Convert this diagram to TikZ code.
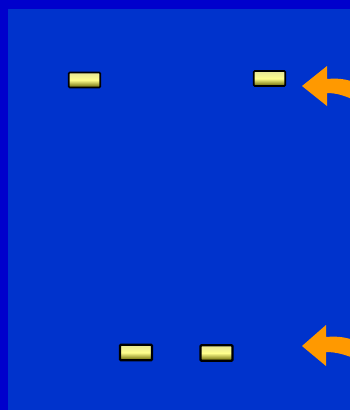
\documentclass[tikz,border=0pt]{standalone}
\usepackage{tikz}
\usetikzlibrary{positioning}
\usepackage{xcolor}

\definecolor{edgeblue}{HTML}{0000CC}
\definecolor{slideblue}{HTML}{0033CC}
\definecolor{arrorange}{HTML}{FF9900}

\tikzset{
  bar/.style={draw=black, line width=1.6pt, rounded corners=1pt,
    minimum width=31.5pt, minimum height=15pt, inner sep=0pt,
    top color=yellow!35!white!90!black, bottom color=olive!70!yellow!60!black,
    middle color=yellow!45!white},
  lowbar/.style={bar, line width=2.4pt, minimum width=32pt, minimum height=15.5pt},
  turnarrow/.style={fill=arrorange, draw=none}
}

\begin{document}
\begin{tikzpicture}[x=1pt, y=-1pt]
  \useasboundingbox (0,0) rectangle (350,410);
  \fill[edgeblue] (0,0) rectangle (350,410);
  \fill[slideblue] (8,9) rectangle (350,410);

  \node[bar] (bar1) at (84.5,80) {};
  \node[bar] (bar2) at (269.5,78.5) {};
  \node[lowbar] (bar3) at (136,352.5) {};
  \node[lowbar] (bar4) at (216.5,353) {};

  \begin{scope}
    \clip (0,0) rectangle (350,410);
    % upper arrow
    \fill[turnarrow] (302,86) -- (327,66) -- (327,79)
      .. controls (338,78) and (347,79) .. (356,83) -- (356,101)
      .. controls (346,96) and (337,93) .. (327,93) -- (327,106) -- cycle;
    % lower arrow
    \fill[turnarrow] (302,346) -- (326,325) -- (326,337)
      .. controls (337,336) and (346,337) .. (356,341) -- (356,359)
      .. controls (346,355) and (337,352) .. (326,352) -- (326,366) -- cycle;
  \end{scope}
\end{tikzpicture}
\end{document}
